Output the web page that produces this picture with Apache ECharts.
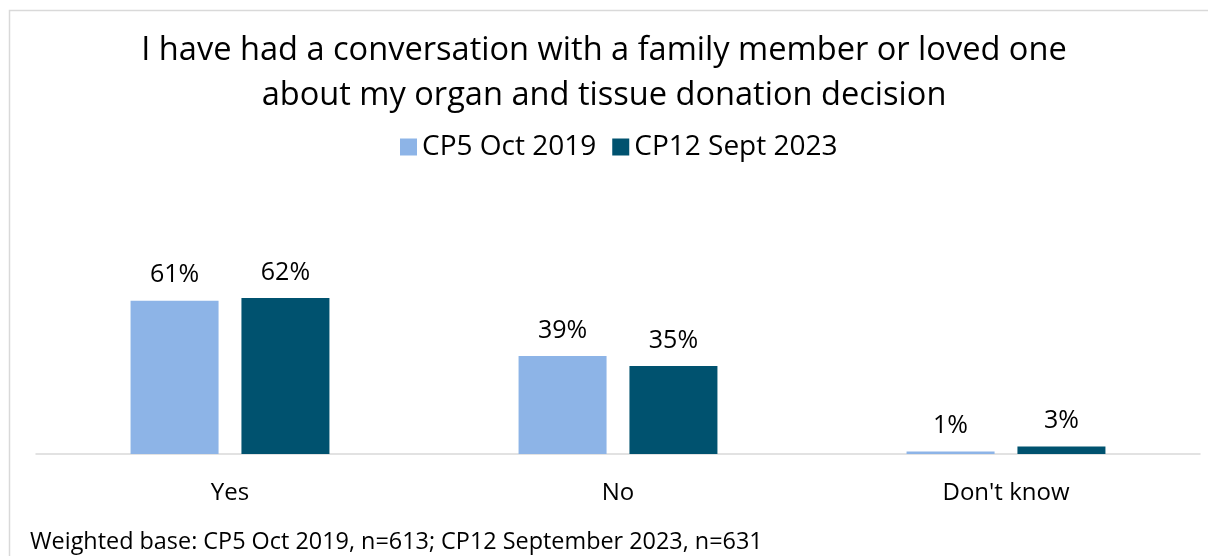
<!DOCTYPE html>
<html>
<head>
<meta charset="utf-8">
<script src="https://cdn.jsdelivr.net/npm/echarts@6/dist/echarts.min.js"></script>
<style>
  html, body { margin: 0; padding: 0; background: #fff; }
  #chart { width: 1208px; height: 556px; }
</style>
</head>
<body>
<div id="chart"></div>
<script>
// chart data
const categories = ['Yes', 'No', "Don't know"]
const seriesNames = ['CP5 Oct 2019', 'CP12 Sept 2023']
const cp5Values = [61, 39, 1]
const cp12Values = [62, 35, 3]
const colors = ['#8db4e7', '#00526f']

const font = 'Open Sans'

const chart = echarts.init(document.getElementById('chart'))

const barSeries = (name, data, color) => ({
  name: name,
  type: 'bar',
  data: data,
  barWidth: 88,
  barGap: '26%',
  itemStyle: { color: color },
  label: {
    show: true,
    position: 'top',
    distance: 13,
    formatter: '{c}%',
    color: '#000',
    fontFamily: font,
    fontSize: 25
  }
})

chart.setOption({
  animation: false,
  title: {
    text: 'I have had a conversation with a family member or loved one\nabout my organ and tissue donation decision',
    left: 'center',
    top: 23,
    textStyle: {
      fontFamily: font,
      fontSize: 32.6,
      fontWeight: 'normal',
      color: '#000',
      lineHeight: 45
    }
  },
  legend: {
    top: 128,
    left: 395,
    itemWidth: 17,
    itemHeight: 17,
    itemGap: 16,
    icon: 'rect',
    textStyle: { fontFamily: font, fontSize: 28, color: '#000' },
    data: seriesNames
  },
  grid: { left: 36, right: 8, top: 278, bottom: 102 },
  xAxis: {
    type: 'category',
    data: categories,
    axisLine: { lineStyle: { color: '#d9d9d9', width: 1.5 } },
    axisTick: { show: false },
    axisLabel: { fontFamily: font, fontSize: 24, color: '#000', margin: 27 }
  },
  yAxis: {
    type: 'value',
    min: 0,
    max: 70,
    show: false,
    splitLine: { show: false }
  },
  series: [
    barSeries(seriesNames[0], cp5Values, colors[0]),
    barSeries(seriesNames[1], cp12Values, colors[1])
  ],
  graphic: [
    {
      type: 'rect',
      shape: { x: 9.5, y: 10.5, width: 1300, height: 600 },
      style: { fill: 'none', stroke: '#d9d9d9', lineWidth: 1.5 },
      z: -1
    },
    {
      type: 'text',
      left: 30,
      top: 531,
      style: {
        text: 'Weighted base: CP5 Oct 2019, n=613; CP12 September 2023, n=631',
        fontFamily: font,
        fontSize: 23.4,
        fill: '#000'
      }
    }
  ]
})
</script>
</body>
</html>
